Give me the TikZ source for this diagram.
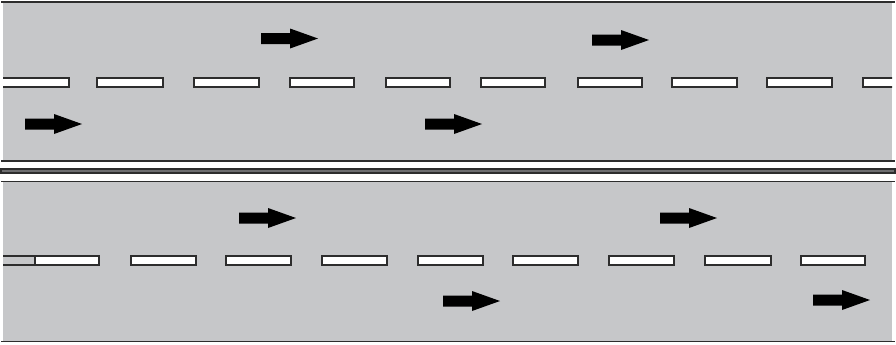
\documentclass[tikz,border=0pt]{standalone}
\usepackage{tikz}
\usetikzlibrary{calc}

\definecolor{asphalt}{RGB}{198,199,201}
\definecolor{edgeline}{RGB}{45,45,45}

\begin{document}
\begin{tikzpicture}[x=0.5pt,y=-0.5pt,line join=miter,
road/.style={fill=asphalt},
border/.style={draw=edgeline,line width=0.8pt},
dashbox/.style={draw=edgeline,fill=white,line width=0.6pt},
pics/lanearrow/.style={code={
  \fill[black] (0,-5.5) -- (29,-5.5) -- (29,-10) -- (57,0) -- (29,10) -- (29,5.5) -- (0,5.5) -- cycle;}}]
\useasboundingbox (0,0) rectangle (896,344);
% two carriageways
\fill[road] (3,2) rectangle (892,161);
\fill[road] (3,181.5) rectangle (892,341.5);
\draw[border] (1,2) -- (895,2);
\draw[border] (1,161) -- (895,161);
\draw[border,fill=asphalt!55!black] (1,169) rectangle (895,173);
\draw[border] (1,181.5) -- (895,181.5);
\draw[border] (1,341.5) -- (895,341.5);
% lane markings
\begin{scope}
\clip (3,0) rectangle (892,344);
\foreach \s/\e in {0/69,97/163,194/259,290/354,386/450,481/545,578/642,672/737,767/832,863/900}
  \draw[dashbox] (\s,78) rectangle (\e,87);
\fill[white] (35,256) rectangle (99,265);
\draw[edgeline,line width=0.6pt] (0,256) rectangle (99,265) (35,256) -- (35,265);
\foreach \s/\e in {131/196,226/291,322/387,418/483,513/578,609/674,705/771,801/865}
  \draw[dashbox] (\s,256) rectangle (\e,265);
\end{scope}
% driving direction
\foreach \x/\y in {261/38.5,592/40,25/124,425/124,239/218,660/218,443/301,813/300}
  \pic at (\x,\y) {lanearrow};
\end{tikzpicture}
\end{document}
